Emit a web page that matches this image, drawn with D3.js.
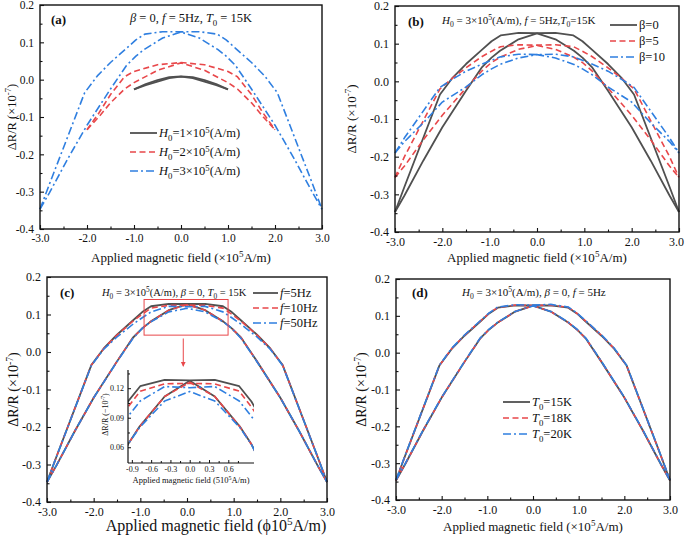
<!DOCTYPE html>
<html><head><meta charset="utf-8">
<script src="https://cdn.jsdelivr.net/npm/d3@7"></script>
<style>
body{margin:0;background:#fff}
text{font-family:"Liberation Serif","Times New Roman",serif;fill:#111}
</style>
</head><body>
<svg id="chart" width="685" height="538"></svg>
<script>
// ---------------- DATA ----------------
const xTicks = [-3.0, -2.0, -1.0, 0.0, 1.0, 2.0, 3.0];
const yTicks = [0.2, 0.1, 0.0, -0.1, -0.2, -0.3, -0.4];
const insetXTicks = [-0.9, -0.6, -0.3, 0.0, 0.3, 0.6];
const insetYTicks = [0.06, 0.09, 0.12];

// shared field samples (x 10^5 A/m)
const xOuter = [-3.0,-2.8,-2.05,-1.78,-1.5,-1.16,-0.96,-0.77,-0.39,0.0,0.39,0.77,0.96,1.16,1.5,1.78,2.05,2.8,3.0];
const xInner = [-3.0,-2.8,-2.4,-2.0,-1.5,-1.16,-0.96,-0.78,-0.39,0.0,0.39,0.78,0.96,1.16,1.5,2.0,2.4,2.8,3.0];

// H0 = 3e5, beta = 0, f = 5Hz, T0 = 15K
const baseUpper = [-0.347,-0.28,-0.035,0.010,0.046,0.084,0.1065,0.122,0.1285,0.128,0.1285,0.122,0.1065,0.084,0.046,0.010,-0.035,-0.28,-0.347];
const baseLower = [-0.347,-0.303,-0.21,-0.122,-0.025,0.038,0.063,0.081,0.1116,0.1275,0.1116,0.081,0.063,0.038,-0.025,-0.122,-0.21,-0.303,-0.347];

// panel (a): H0 = 1e5 and 2e5
const fieldH1 = [-1.0,-0.75,-0.5,-0.25,0.0,0.25,0.5,0.75,1.0];
const h1Upper = [-0.026,-0.012,-0.001,0.007,0.009,0.007,-0.001,-0.012,-0.026];
const h1Lower = [-0.026,-0.015,-0.005,0.004,0.008,0.004,-0.005,-0.015,-0.026];
const fieldH2 = [-2.0,-1.75,-1.5,-1.2,-1.0,-0.5,0.0,0.5,1.0,1.2,1.5,1.75,2.0];
const h2Upper = [-0.134,-0.09,-0.04,0.008,0.022,0.040,0.046,0.040,0.022,0.008,-0.04,-0.09,-0.134];
const h2Lower = [-0.134,-0.10,-0.062,-0.025,-0.008,0.025,0.045,0.025,-0.008,-0.025,-0.062,-0.10,-0.134];

// panel (b): beta = 5, 10
const b5Upper = [-0.255,-0.20,-0.02,0.009,0.036,0.066,0.080,0.092,0.097,0.096,0.097,0.092,0.080,0.066,0.036,0.009,-0.02,-0.20,-0.255];
const b5Lower = [-0.255,-0.225,-0.155,-0.09,-0.018,0.028,0.050,0.064,0.085,0.095,0.085,0.064,0.050,0.028,-0.018,-0.09,-0.155,-0.225,-0.255];
const b10Upper = [-0.19,-0.15,-0.016,0.006,0.027,0.046,0.056,0.065,0.072,0.071,0.072,0.065,0.056,0.046,0.027,0.006,-0.016,-0.15,-0.19];
const b10Lower = [-0.19,-0.16,-0.11,-0.055,-0.015,0.018,0.033,0.045,0.062,0.071,0.062,0.045,0.033,0.018,-0.015,-0.055,-0.11,-0.16,-0.19];

// panel (c): f = 10Hz, 50Hz
const f10Upper = [-0.347,-0.28,-0.035,0.010,0.045,0.082,0.1008,0.117,0.1244,0.125,0.1244,0.117,0.1008,0.082,0.045,0.010,-0.035,-0.28,-0.347];
const f10Lower = [-0.347,-0.303,-0.21,-0.122,-0.025,0.038,0.063,0.081,0.1116,0.126,0.1116,0.081,0.063,0.038,-0.025,-0.122,-0.21,-0.303,-0.347];
const f50Upper = [-0.347,-0.28,-0.036,0.008,0.040,0.074,0.0913,0.107,0.1217,0.1205,0.1217,0.107,0.0913,0.074,0.040,0.008,-0.036,-0.28,-0.347];
const f50Lower = [-0.347,-0.303,-0.21,-0.122,-0.026,0.036,0.063,0.080,0.107,0.1166,0.107,0.080,0.063,0.036,-0.026,-0.122,-0.21,-0.303,-0.347];

// panel (d): T0 = 18K, 20K
const t18Upper = [-0.347,-0.28,-0.035,0.011,0.047,0.085,0.107,0.123,0.129,0.128,0.129,0.123,0.107,0.085,0.047,0.011,-0.035,-0.28,-0.347];
const t18Lower = [-0.347,-0.303,-0.21,-0.122,-0.025,0.038,0.063,0.081,0.1116,0.1275,0.1116,0.081,0.063,0.038,-0.025,-0.122,-0.21,-0.303,-0.347];
const t20Upper = [-0.345,-0.279,-0.034,0.012,0.048,0.086,0.108,0.124,0.130,0.129,0.131,0.124,0.108,0.086,0.048,0.012,-0.034,-0.279,-0.345];
const t20Lower = [-0.346,-0.302,-0.209,-0.121,-0.024,0.039,0.064,0.082,0.112,0.127,0.112,0.082,0.064,0.039,-0.024,-0.121,-0.209,-0.302,-0.346];

// ---------------- STYLE ----------------
const GRAY = "#505050", RED = "#e8474a", BLUE = "#2f7fe0";
const styles = {
  solid: {color: GRAY, dash: null, w: 1.8},
  dash:  {color: RED, dash: "6,3.5", w: 1.6},
  dot:   {color: BLUE, dash: "8,3,2,3", w: 1.6}
};

const svg = d3.select("#chart");
const fmt1 = d => d.toFixed(1);

function rich(sel, parts, fs) {
  let shift = 0;
  parts.forEach(p => {
    const t = p[0], st = p[1] || "";
    const ts = sel.append("tspan").text(t);
    let target = 0;
    if (st.indexOf("sub") >= 0) { target = 0.28 * fs; ts.attr("font-size", fs * 0.7); }
    if (st.indexOf("sup") >= 0) { target = -0.38 * fs; ts.attr("font-size", fs * 0.7); }
    if (st.indexOf("it") >= 0) ts.attr("font-style", "italic");
    if (target !== shift) { ts.attr("dy", target - shift); shift = target; }
  });
}

function drawLine(g, x, y, xs, ys, st) {
  const line = d3.line().x((d, i) => x(xs[i])).y((d, i) => y(ys[i]));
  g.append("path").datum(ys).attr("d", line)
    .attr("fill", "none").attr("stroke", st.color).attr("stroke-width", st.w)
    .attr("stroke-linejoin", "round")
    .attr("stroke-dasharray", st.dash);
}

function panel(cfg) {
  const g = svg.append("g");
  const x = d3.scaleLinear().domain([-3, 3]).range([cfg.l, cfg.r]);
  const y = d3.scaleLinear().domain([-0.4, 0.2]).range([cfg.b, cfg.t]);

  cfg.series.forEach(s => {
    drawLine(g, x, y, s.xu, s.yu, styles[s.st]);
    drawLine(g, x, y, s.xl, s.yl, styles[s.st]);
  });

  // frame
  g.append("rect").attr("x", cfg.l).attr("y", cfg.t)
    .attr("width", cfg.r - cfg.l).attr("height", cfg.b - cfg.t)
    .attr("fill", "none").attr("stroke", "#111").attr("stroke-width", 1.4);

  // bottom axis
  const ax = g.append("g").attr("transform", `translate(0,${cfg.b})`)
    .call(d3.axisBottom(x).tickValues(xTicks).tickFormat(fmt1).tickSize(-4).tickPadding(5));
  ax.select(".domain").remove();
  ax.selectAll("text").attr("font-size", cfg.tfs).attr("font-family", "Liberation Serif").attr("fill", "#111");
  if (cfg.lastShift) ax.selectAll(".tick:last-of-type text").attr("dx", cfg.lastShift);
  const axm = g.append("g").attr("transform", `translate(0,${cfg.b})`)
    .call(d3.axisBottom(x).tickValues([-2.5, -1.5, -0.5, 0.5, 1.5, 2.5]).tickFormat("").tickSize(-2.5));
  axm.select(".domain").remove();
  // left axis
  const ay = g.append("g").attr("transform", `translate(${cfg.l},0)`)
    .call(d3.axisLeft(y).tickValues(yTicks).tickFormat(fmt1).tickSize(-4).tickPadding(6));
  ay.select(".domain").remove();
  ay.selectAll("text").attr("font-size", cfg.tfs).attr("font-family", "Liberation Serif").attr("fill", "#111");
  const aym = g.append("g").attr("transform", `translate(${cfg.l},0)`)
    .call(d3.axisLeft(y).tickValues([0.15, 0.05, -0.05, -0.15, -0.25, -0.35]).tickFormat("").tickSize(-2.5));
  aym.select(".domain").remove();
  g.selectAll(".tick line").attr("stroke", "#111").attr("stroke-width", 1.1);

  // axis titles
  const xt = g.append("text").attr("x", cfg.xlx).attr("y", cfg.xly)
    .attr("text-anchor", "middle").attr("font-size", cfg.xfs);
  rich(xt, cfg.xlabel, cfg.xfs);
  const yt = g.append("text")
    .attr("transform", `translate(${cfg.ylx},${(cfg.t + cfg.b) / 2}) rotate(-90)`)
    .attr("text-anchor", "middle").attr("font-size", cfg.yfs);
  rich(yt, [["ΔR/R (×10"], ["-7", "sup"], [")"]], cfg.yfs);

  // panel tag
  g.append("text").attr("x", cfg.tagx).attr("y", cfg.tagy).attr("font-size", 13)
    .attr("font-weight", "bold").text(cfg.tag);
  // header
  const ht = g.append("text").attr("x", cfg.hx).attr("y", cfg.hy).attr("font-size", cfg.hfs);
  rich(ht, cfg.header, cfg.hfs);

  // legend
  cfg.legend.items.forEach((it, i) => {
    const yy = cfg.legend.y + i * cfg.legend.dy;
    const st = styles[it.st];
    g.append("line").attr("x1", cfg.legend.x).attr("x2", cfg.legend.x + cfg.legend.len)
      .attr("y1", yy).attr("y2", yy).attr("stroke", st.color).attr("stroke-width", st.w)
      .attr("stroke-dasharray", st.dash);
    const t = g.append("text").attr("x", cfg.legend.x + cfg.legend.len + 2).attr("y", yy + cfg.legend.fs * 0.35)
      .attr("font-size", cfg.legend.fs);
    rich(t, it.label, cfg.legend.fs);
  });
  return {g, x, y};
}

const xLabelStd = [["Applied magnetic field (×10"], ["5", "sup"], ["A/m)"]];

// ---------- (a) ----------
panel({
  l: 40, r: 322, t: 5, b: 229, tfs: 11.5,
  xlabel: xLabelStd, xlx: 181, xly: 262, xfs: 13,
  ylx: 16, yfs: 12.5,
  tag: "(a)", tagx: 51, tagy: 24,
  header: [["β", "it"], [" = 0, "], ["f", "it"], [" = 5Hz, "], ["T", "it"], ["0", "sub"], [" = 15K"]],
  hx: 130, hy: 22, hfs: 12.5,
  series: [
    {xu: fieldH1, yu: h1Upper, xl: fieldH1, yl: h1Lower, st: "solid"},
    {xu: fieldH2, yu: h2Upper, xl: fieldH2, yl: h2Lower, st: "dash"},
    {xu: xOuter, yu: baseUpper, xl: xInner, yl: baseLower, st: "dot"}
  ],
  legend: {x: 130, y: 133, dy: 19, len: 27, fs: 12.5, items: [
    {st: "solid", label: [["H", "it"], ["0", "sub"], ["=1×10"], ["5", "sup"], ["(A/m)"]]},
    {st: "dash", label: [["H", "it"], ["0", "sub"], ["=2×10"], ["5", "sup"], ["(A/m)"]]},
    {st: "dot", label: [["H", "it"], ["0", "sub"], ["=3×10"], ["5", "sup"], ["(A/m)"]]}
  ]}
});

// ---------- (b) ----------
panel({
  l: 395, r: 679, t: 6, b: 232, tfs: 12, lastShift: -3,
  xlabel: xLabelStd, xlx: 537, xly: 262, xfs: 13,
  ylx: 356, yfs: 13,
  tag: "(b)", tagx: 408, tagy: 26,
  header: [["H", "it"], ["0", "sub"], [" = 3×10"], ["5", "sup"], ["(A/m), "], ["f", "it"], [" = 5Hz,"], ["T", "it"], ["0", "sub"], ["=15K"]],
  hx: 442, hy: 24, hfs: 11,
  series: [
    {xu: xOuter, yu: baseUpper, xl: xInner, yl: baseLower, st: "solid"},
    {xu: xOuter, yu: b5Upper, xl: xInner, yl: b5Lower, st: "dash"},
    {xu: xOuter, yu: b10Upper, xl: xInner, yl: b10Lower, st: "dot"}
  ],
  legend: {x: 610, y: 25, dy: 16, len: 27, fs: 12.5, items: [
    {st: "solid", label: [["β=0"]]},
    {st: "dash", label: [["β=5"]]},
    {st: "dot", label: [["β=10"]]}
  ]}
});

// ---------- (c) ----------
const pc = panel({
  l: 47, r: 327, t: 277, b: 502, tfs: 12,
  xlabel: [["Applied magnetic field (ϕ10"], ["5", "sup"], ["A/m)"]], xlx: 216, xly: 531, xfs: 16,
  ylx: 18, yfs: 14,
  tag: "(c)", tagx: 60, tagy: 297,
  header: [["H", "it"], ["0", "sub"], [" = 3×10"], ["5", "sup"], ["(A/m), "], ["β", "it"], [" = 0, "], ["T", "it"], ["0", "sub"], [" = 15K"]],
  hx: 102, hy: 296, hfs: 10.5,
  series: [
    {xu: xOuter, yu: baseUpper, xl: xInner, yl: baseLower, st: "solid"},
    {xu: xOuter, yu: f10Upper, xl: xInner, yl: f10Lower, st: "dash"},
    {xu: xOuter, yu: f50Upper, xl: xInner, yl: f50Lower, st: "dot"}
  ],
  legend: {x: 253, y: 293, dy: 15, len: 25, fs: 12.5, items: [
    {st: "solid", label: [["f", "it"], ["=5Hz"]]},
    {st: "dash", label: [["f", "it"], ["=10Hz"]]},
    {st: "dot", label: [["f", "it"], ["=50Hz"]]}
  ]}
});

// zoom rectangle and arrow in (c)
pc.g.append("rect")
  .attr("x", pc.x(-0.92)).attr("y", pc.y(0.14))
  .attr("width", pc.x(0.88) - pc.x(-0.92)).attr("height", pc.y(0.045) - pc.y(0.14))
  .attr("fill", "none").attr("stroke", RED).attr("stroke-width", 1);
svg.append("defs").append("marker").attr("id", "arr").attr("viewBox", "0 0 10 10")
  .attr("refX", 9).attr("refY", 5).attr("markerWidth", 5).attr("markerHeight", 6).attr("orient", "auto")
  .append("path").attr("d", "M0,0L10,5L0,10z").attr("fill", RED);
pc.g.append("line").attr("x1", pc.x(-0.08)).attr("x2", pc.x(-0.08))
  .attr("y1", pc.y(0.036)).attr("y2", pc.y(-0.038))
  .attr("stroke", RED).attr("stroke-width", 1).attr("marker-end", "url(#arr)");

// inset
(function inset() {
  const L = 128, R = 254, T = 370, B = 463;
  const x = d3.scaleLinear().domain([-0.96, 1.0]).range([L, R]);
  const y = d3.scaleLinear().domain([0.044, 0.1385]).range([B, T]);
  const g = svg.append("g");
  svg.select("defs").append("clipPath").attr("id", "insetClip")
    .append("rect").attr("x", L).attr("y", T - 5).attr("width", R - L).attr("height", B - T + 5);
  const gc = g.append("g").attr("clip-path", "url(#insetClip)");
  [[xOuter, baseUpper, xInner, baseLower, "solid"],
   [xOuter, f10Upper, xInner, f10Lower, "dash"],
   [xOuter, f50Upper, xInner, f50Lower, "dot"]].forEach(s => {
    drawLine(gc, x, y, s[0], s[1], styles[s[4]]);
    drawLine(gc, x, y, s[2], s[3], styles[s[4]]);
  });
  const ax = g.append("g").attr("transform", `translate(0,${B})`)
    .call(d3.axisBottom(x).tickValues(insetXTicks).tickFormat(fmt1).tickSize(-3).tickPadding(3));
  ax.select(".domain").attr("d", `M${L},0H${R}`);
  const ay = g.append("g").attr("transform", `translate(${L},0)`)
    .call(d3.axisLeft(y).tickValues(insetYTicks).tickFormat(d => d.toFixed(2)).tickSize(-3).tickPadding(4));
  ay.select(".domain").attr("d", `M0,${T}V${B}`);
  const aym = g.append("g").attr("transform", `translate(${L},0)`)
    .call(d3.axisLeft(y).tickValues([0.075, 0.105, 0.135]).tickFormat("").tickSize(-2));
  aym.select(".domain").remove();
  const axm = g.append("g").attr("transform", `translate(0,${B})`)
    .call(d3.axisBottom(x).tickValues([-0.75, -0.45, -0.15, 0.15, 0.45, 0.75]).tickFormat("").tickSize(-2));
  axm.select(".domain").remove();
  g.selectAll(".domain").attr("stroke", "#111").attr("stroke-width", 1.2);
  g.selectAll(".tick line").attr("stroke", "#111");
  g.selectAll("text").attr("font-size", 8).attr("font-family", "Liberation Serif").attr("fill", "#111");
  const xt = g.append("text").attr("x", 191).attr("y", 483).attr("text-anchor", "middle").attr("font-size", 8.5);
  rich(xt, [["Applied magnetic field (510"], ["5", "sup"], ["A/m)"]], 8.5);
  const yt = g.append("text").attr("transform", `translate(108,${(T + B) / 2 - 2}) rotate(-90)`)
    .attr("text-anchor", "middle").attr("font-size", 8);
  rich(yt, [["ΔR/R (−10"], ["-7", "sup"], [")"]], 8);
})();

// ---------- (d) ----------
panel({
  l: 396, r: 670, t: 279, b: 500, tfs: 12,
  xlabel: xLabelStd, xlx: 533, xly: 531, xfs: 13,
  ylx: 366, yfs: 14,
  tag: "(d)", tagx: 412, tagy: 297,
  header: [["H", "it"], ["0", "sub"], [" = 3×10"], ["5", "sup"], ["(A/m), "], ["β", "it"], [" = 0, "], ["f", "it"], [" = 5Hz"]],
  hx: 462, hy: 296, hfs: 11,
  series: [
    {xu: xOuter, yu: baseUpper, xl: xInner, yl: baseLower, st: "solid"},
    {xu: xOuter, yu: t18Upper, xl: xInner, yl: t18Lower, st: "dash"},
    {xu: xOuter, yu: t20Upper, xl: xInner, yl: t20Lower, st: "dot"}
  ],
  legend: {x: 503, y: 402, dy: 16, len: 27, fs: 12.5, items: [
    {st: "solid", label: [["T", "it"], ["0", "sub"], ["=15K"]]},
    {st: "dash", label: [["T", "it"], ["0", "sub"], ["=18K"]]},
    {st: "dot", label: [["T", "it"], ["0", "sub"], ["=20K"]]}
  ]}
});
</script>
</body></html>
